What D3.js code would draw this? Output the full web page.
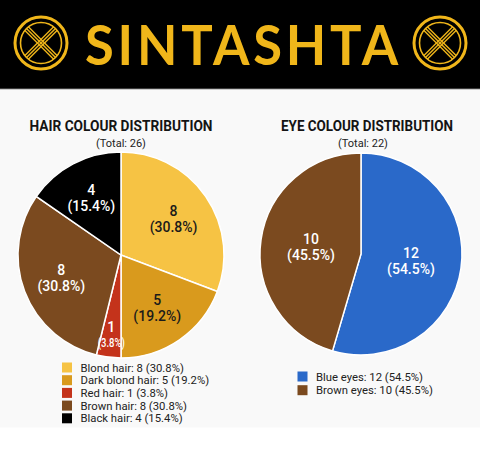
<!DOCTYPE html>
<html>
<head>
<meta charset="utf-8">
<script src="https://cdn.jsdelivr.net/npm/d3@7"></script>
<style>
  body { margin: 0; background: #fff; }
  svg { display: block; font-family: Roboto, 'Noto Sans', sans-serif; }
</style>
</head>
<body>
<div class="chart"></div>
<script>
const bannerTitle = 'SINTASHTA'

const hairTitle = 'HAIR COLOUR DISTRIBUTION'
const hairLabels = ['Blond hair', 'Dark blond hair', 'Red hair', 'Brown hair', 'Black hair']
const hairCounts = [8, 5, 1, 8, 4]
const hairColors = ['#f6c344', '#d99a1d', '#c4331b', '#7b4a1f', '#000000']
const hairTextColors = ['#1a1a1a', '#1a1a1a', '#ffffff', '#ffffff', '#ffffff']

const eyeTitle = 'EYE COLOUR DISTRIBUTION'
const eyeLabels = ['Blue eyes', 'Brown eyes']
const eyeCounts = [12, 10]
const eyeColors = ['#2a69c9', '#7b4a1f']
const eyeTextColors = ['#ffffff', '#ffffff']

const width = 480
const height = 450
const gold = '#f0b61a'
const pct = d3.format('.1%')

let svg = d3.select('.chart')
	.append('svg')
	.attr('width', width)
	.attr('height', height)

// banner
svg.append('rect')
	.attr('width', width)
	.attr('height', 88)
	.attr('fill', '#000')
svg.append('rect')
	.attr('y', 88)
	.attr('width', width)
	.attr('height', 1.5)
	.attr('fill', '#3a3a3a')
svg.append('rect')
	.attr('y', 89.5)
	.attr('width', width)
	.attr('height', 338)
	.attr('fill', '#f9f9f9')

svg.append('text')
	.attr('x', 243.5)
	.attr('y', 65)
	.attr('text-anchor', 'middle')
	.attr('textLength', 317)
	.attr('lengthAdjust', 'spacingAndGlyphs')
	.style('font-family', "Lato, 'DejaVu Sans', sans-serif")
	.style('font-weight', 700)
	.style('font-size', '55px')
	.style('letter-spacing', '4px')
	.style('fill', gold)
	.text(bannerTitle)

let emblem = (cx, cy) => {
	let g = svg.append('g').attr('transform', 'translate(' + cx + ',' + cy + ')')
	g.append('circle').attr('r', 26).attr('fill', 'none').attr('stroke', gold).attr('stroke-width', 3)
	g.append('circle').attr('r', 20.5).attr('fill', 'none').attr('stroke', gold).attr('stroke-width', 1.6)
	let e = 20.5 * Math.SQRT1_2
	;[-2.6, 0, 2.6].forEach((o) => {
		let k = o * Math.SQRT1_2
		g.append('line')
			.attr('x1', -e + k).attr('y1', -e - k).attr('x2', e + k).attr('y2', e - k)
			.attr('stroke', gold).attr('stroke-width', 1.4)
		g.append('line')
			.attr('x1', e + k).attr('y1', -e + k).attr('x2', -e + k).attr('y2', e + k)
			.attr('stroke', gold).attr('stroke-width', 1.4)
	})
}
emblem(41, 43)
emblem(440, 43)

function drawPie(opts) {
	let total = d3.sum(opts.counts)
	let idx = d3.range(opts.counts.length)
	let color = d3.scaleOrdinal().domain(idx).range(opts.colors)
	let small = (i) => opts.counts[i] / total < 0.08

	svg.append('text')
		.attr('x', opts.titleX)
		.attr('y', 131)
		.attr('text-anchor', 'middle')
		.attr('textLength', opts.titleW)
		.attr('lengthAdjust', 'spacingAndGlyphs')
		.style('font-weight', 700)
		.style('font-size', '15px')
		.style('fill', '#141414')
		.text(opts.title)

	svg.append('text')
		.attr('x', opts.subX)
		.attr('y', 147)
		.attr('text-anchor', 'middle')
		.style('font-size', '11px')
		.style('fill', '#222')
		.text('(Total: ' + total + ')')

	let pie = d3.pie().sort(null).value((i) => opts.counts[i])
	let arc = d3.arc().innerRadius(0).outerRadius(opts.r)

	let g = svg.append('g')
		.attr('transform', 'translate(' + opts.cx + ',' + opts.cy + ')')

	let arcs = pie(idx)

	g.selectAll('path')
		.data(arcs)
		.enter().append('path')
		.attr('d', arc)
		.attr('fill', (d) => color(d.data))
		.attr('stroke', '#fff')
		.attr('stroke-width', 1.5)

	let label = g.selectAll('.lbl')
		.data(arcs)
		.enter().append('text')
		.attr('class', 'lbl')
		.attr('transform', (d) => {
			let f = small(d.data) ? 0.78 : opts.labelK
			let a = (d.startAngle + d.endAngle) / 2
			return 'translate(' + (Math.sin(a) * opts.r * f) + ',' + (-Math.cos(a) * opts.r * f) + ')'
		})
		.attr('text-anchor', 'middle')
		.style('font-size', '14px')
		.style('font-weight', 500)
		.style('fill', (d) => opts.textColors[d.data])

	label.append('tspan')
		.attr('x', 0)
		.attr('y', -3)
		.text((d) => opts.counts[d.data])
	label.append('tspan')
		.attr('x', 0)
		.attr('y', (d) => small(d.data) ? 12 : 13)
		.attr('textLength', (d) => small(d.data) ? 27 : null)
		.attr('lengthAdjust', 'spacingAndGlyphs')
		.style('font-size', (d) => small(d.data) ? '12.5px' : '14px')
		.text((d) => '(' + pct(opts.counts[d.data] / total) + ')')

	let legend = svg.selectAll('.legend-' + opts.key)
		.data(idx)
		.enter().append('g')
		.attr('transform', (i) => 'translate(' + opts.legX + ',' + (opts.legY + i * opts.legStep) + ')')

	legend.append('rect')
		.attr('x', 0)
		.attr('y', -5)
		.attr('width', 10)
		.attr('height', 10)
		.attr('fill', (i) => color(i))

	legend.append('text')
		.attr('x', 18.5)
		.attr('y', 4)
		.style('font-size', '11.3px')
		.style('fill', '#222')
		.text((i) => opts.labels[i] + ': ' + opts.counts[i] + ' (' + pct(opts.counts[i] / total) + ')')
}

drawPie({
	key: 'hair', title: hairTitle, labels: hairLabels, counts: hairCounts,
	colors: hairColors, textColors: hairTextColors,
	cx: 121, cy: 255, r: 103, labelK: 0.62,
	titleX: 121, titleW: 183, subX: 121,
	legX: 62, legY: 367.5, legStep: 12.7
})

drawPie({
	key: 'eye', title: eyeTitle, labels: eyeLabels, counts: eyeCounts,
	colors: eyeColors, textColors: eyeTextColors,
	cx: 361, cy: 254, r: 101, labelK: 0.5,
	titleX: 367, titleW: 172, subX: 363,
	legX: 297.5, legY: 376.5, legStep: 13.7
})
</script>
</body>
</html>
